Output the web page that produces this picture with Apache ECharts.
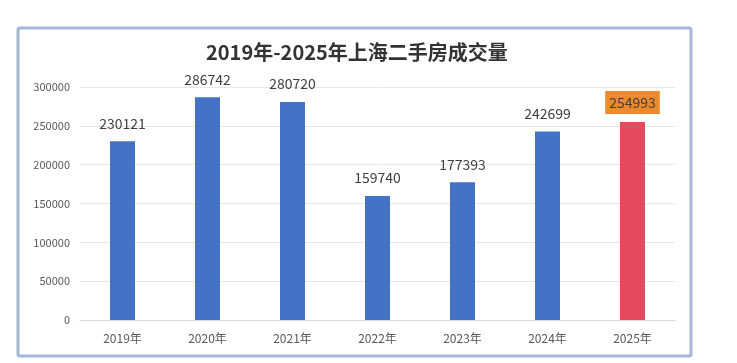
<!DOCTYPE html>
<html><head><meta charset="utf-8">
<script src="https://cdn.jsdelivr.net/npm/echarts@6/dist/echarts.min.js"></script>
<style>html,body{margin:0;padding:0;background:#fff}#c{width:737px;height:363px}</style>
</head><body><div id="c"></div>
<script>
const categories = ['2019年','2020年','2021年','2022年','2023年','2024年','2025年'];
const values = [230121, 286742, 280720, 159740, 177393, 242699, 254993];
const yTicks = [0, 50000, 100000, 150000, 200000, 250000, 300000];
const titleText = '2019年-2025年上海二手房成交量';

const chart = echarts.init(document.getElementById('c'));
const font = '"Noto Sans CJK SC", "Open Sans", sans-serif';
chart.setOption({
  animation: false,
  title: {
    text: titleText, left: 201, top: 37,
    textStyle: {fontFamily: font, fontSize: 20, fontWeight: 'bold', color: '#333'}
  },
  graphic: [{
    type: 'rect', shape: {x: 18, y: 28, width: 673, height: 328, r: 2},
    style: {fill: 'none', stroke: '#A3B7D6', lineWidth: 3}, z: 100
  }],
  grid: {left: 80, right: 62, top: 87, bottom: 43},
  xAxis: {
    type: 'category', data: categories,
    axisLine: {lineStyle: {color: '#d9d9d9'}},
    axisTick: {show: false},
    axisLabel: {color: '#595959', fontSize: 12, fontFamily: font, margin: 12}
  },
  yAxis: {
    type: 'value', min: yTicks[0], max: yTicks[yTicks.length-1], interval: 50000,
    axisLine: {show: false}, axisTick: {show: false},
    splitLine: {lineStyle: {color: '#e6e6e6'}},
    axisLabel: {color: '#595959', fontSize: 11, fontFamily: font, margin: 10, formatter: v => String(v)}
  },
  series: [{
    type: 'bar', data: values.map((v, i) => i === values.length - 1 ? {
      value: v, itemStyle: {color: '#E54A5E'},
      label: {backgroundColor: '#EE8A2E', color: '#404040', padding: [5, 4, 4, 4], distance: 8}
    } : v),
    barWidth: 25,
    itemStyle: {color: '#4472C4'},
    label: {show: true, position: 'top', distance: 11, color: '#404040', fontSize: 14, fontFamily: font}
  }]
});
</script></body></html>
